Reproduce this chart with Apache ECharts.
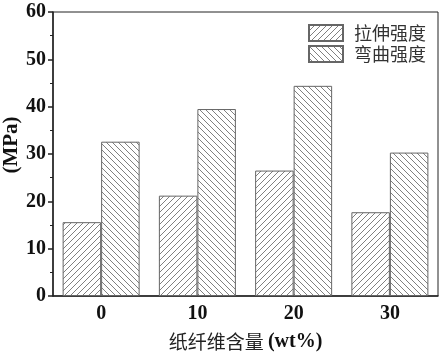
<!DOCTYPE html>
<html><head><meta charset="utf-8">
<script src="https://cdn.jsdelivr.net/npm/echarts@6/dist/echarts.min.js"></script>
<style>html,body{margin:0;padding:0;background:#fff}#c{width:443px;height:355px}</style>
</head><body><div id="c"></div>
<script>
const categories = ['0', '10', '20', '30'];
const tensile = [15.6, 21.2, 26.5, 17.7];
const flexural = [32.6, 39.5, 44.4, 30.3];
const seriesNames = ['拉伸强度', '弯曲强度'];

function hatch(dir) {
  const s = 6;
  const c = document.createElement('canvas');
  c.width = s; c.height = s;
  const g = c.getContext('2d');
  g.fillStyle = '#fff'; g.fillRect(0, 0, s, s);
  g.strokeStyle = '#808080'; g.lineWidth = 1;
  g.beginPath();
  if (dir > 0) {
    g.moveTo(0, s); g.lineTo(s, 0);
    g.moveTo(-1, 1); g.lineTo(1, -1);
    g.moveTo(s - 1, s + 1); g.lineTo(s + 1, s - 1);
  } else {
    g.moveTo(0, 0); g.lineTo(s, s);
    g.moveTo(-1, s - 1); g.lineTo(1, s + 1);
    g.moveTo(s - 1, -1); g.lineTo(s + 1, 1);
  }
  g.stroke();
  return { image: c, repeat: 'repeat' };
}

const serif = '"Liberation Serif", "Times New Roman", serif';
const cjk = '"Noto Sans CJK SC", sans-serif';
const chart = echarts.init(document.getElementById('c'));
chart.setOption({
  animation: false,
  backgroundColor: '#fff',
  grid: { left: 53, right: 5, top: 12, bottom: 59, show: true, borderColor: '#222', borderWidth: 1,
    containLabel: false, outerBoundsMode: 'none' },
  legend: {
    orient: 'vertical', right: 12, top: 19, itemWidth: 34, itemHeight: 16, itemGap: 3,
    icon: 'rect',
    textStyle: { fontFamily: cjk, fontSize: 18, color: '#333', padding: [0, 0, 0, 6] },
    data: seriesNames
  },
  xAxis: [{
    type: 'category', data: categories,
    axisLine: { lineStyle: { color: '#222', width: 1.5 } },
    axisTick: { alignWithLabel: true, length: 5, lineStyle: { color: '#222', width: 1.5 } },
    axisLabel: { fontFamily: serif, fontWeight: 'bold', fontSize: 20, color: '#111', margin: 8 },
    name: '{c|纸纤维含量 }{e|(wt%)}', nameLocation: 'middle', nameGap: 36, nameMoveOverlap: false,
    nameTextStyle: {
      rich: {
        c: { fontFamily: cjk, fontSize: 19, color: '#222' },
        e: { fontFamily: serif, fontWeight: 'bold', fontSize: 20, color: '#111' }
      }
    }
  }, {
    type: 'category', data: categories, position: 'bottom',
    axisLine: { show: false },
    axisTick: { length: 3, lineStyle: { color: '#222', width: 1 } },
    axisLabel: { show: false }
  }],
  yAxis: {
    type: 'value', min: 0, max: 60, interval: 10,
    axisLine: { show: true, lineStyle: { color: '#222', width: 1.5 } },
    axisTick: { show: true, length: 5, lineStyle: { color: '#222', width: 1.5 } },
    minorTick: { show: true, splitNumber: 2, length: 3, lineStyle: { color: '#222' } },
    splitLine: { show: false },
    axisLabel: { fontFamily: serif, fontWeight: 'bold', fontSize: 20, color: '#111', margin: 7 },
    name: '(MPa)', nameLocation: 'middle', nameRotate: 90, nameGap: 31, nameMoveOverlap: false,
    nameTextStyle: { fontFamily: serif, fontWeight: 'bold', fontSize: 21, color: '#111', padding: [0, 0, 0, 18] }
  },
  series: [{
    name: seriesNames[0], type: 'bar', data: tensile, barGap: '0%', barCategoryGap: '20%',
    itemStyle: { color: hatch(1), borderColor: '#666', borderWidth: 1 }
  }, {
    name: seriesNames[1], type: 'bar', data: flexural,
    itemStyle: { color: hatch(-1), borderColor: '#666', borderWidth: 1 }
  }]
});
</script></body></html>
